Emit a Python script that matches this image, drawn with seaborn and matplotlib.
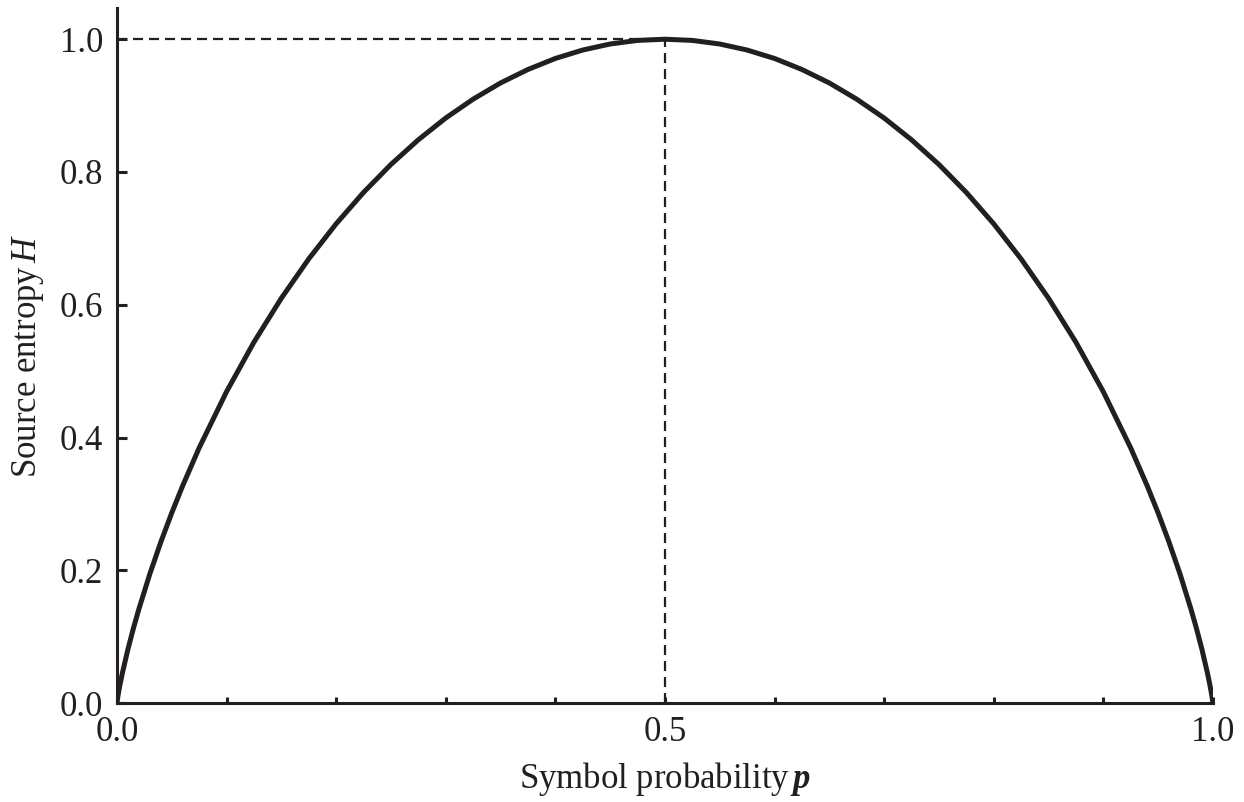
import matplotlib
matplotlib.use("Agg")
import matplotlib.pyplot as plt
import seaborn as sns
import pandas as pd

# Values
p_values = [0.0, 0.001, 0.0025, 0.005, 0.01, 0.015, 0.02, 0.03, 0.04, 0.05, 0.06, 0.075,
            0.1, 0.125, 0.15, 0.175, 0.2, 0.225, 0.25, 0.275, 0.3, 0.325, 0.35, 0.375,
            0.4, 0.425, 0.45, 0.475, 0.5,
            0.525, 0.55, 0.575, 0.6, 0.625, 0.65, 0.675, 0.7, 0.725, 0.75, 0.775, 0.8,
            0.825, 0.85, 0.875, 0.9, 0.925, 0.94, 0.95, 0.96, 0.97, 0.98, 0.985, 0.99,
            0.995, 0.9975, 0.999, 1.0]
h_values = [0.0, 0.0114, 0.0252, 0.0454, 0.0808, 0.1124, 0.1414, 0.1944, 0.2423, 0.2864, 0.3274, 0.3843,
            0.4690, 0.5436, 0.6098, 0.6690, 0.7219, 0.7692, 0.8113, 0.8485, 0.8813, 0.9097, 0.9341, 0.9544,
            0.9710, 0.9837, 0.9928, 0.9982, 1.0,
            0.9982, 0.9928, 0.9837, 0.9710, 0.9544, 0.9341, 0.9097, 0.8813, 0.8485, 0.8113, 0.7692, 0.7219,
            0.6690, 0.6098, 0.5436, 0.4690, 0.3843, 0.3274, 0.2864, 0.2423, 0.1944, 0.1414, 0.1124, 0.0808,
            0.0454, 0.0252, 0.0114, 0.0]
peak_p = [0.5]
peak_h = [1.0]

x_major = [0.0, 0.5, 1.0]
x_major_labels = ["0.0", "0.5", "1.0"]
x_minor = [0.1, 0.2, 0.3, 0.4, 0.6, 0.7, 0.8, 0.9]
y_major = [0.0, 0.2, 0.4, 0.6, 0.8, 1.0]
y_major_labels = ["0.0", "0.2", "0.4", "0.6", "0.8", "1.0"]

df = pd.DataFrame({"p": p_values, "H": h_values})

sns.set_theme(style="ticks")
plt.rcParams["font.family"] = ["Liberation Serif", "DejaVu Serif"]
plt.rcParams["mathtext.fontset"] = "custom"
plt.rcParams["mathtext.rm"] = "Liberation Serif"
plt.rcParams["mathtext.it"] = "Liberation Serif:italic"
plt.rcParams["mathtext.bf"] = "Liberation Serif:italic:bold"

ink = "#231f20"
fig = plt.figure(figsize=(12.44, 8.02), dpi=100)
ax = fig.add_axes([0.094, 0.1234, 0.881, 0.8666])

# dashed guide lines to the peak
dash = (0, (4.5, 2.7))
ax.plot([0.0, peak_p[0]], [peak_h[0], peak_h[0]], color=ink, lw=1.6, ls=dash, zorder=1)
ax.plot([peak_p[0], peak_p[0]], [0.0, peak_h[0]], color=ink, lw=1.6, ls=dash, zorder=1)

sns.lineplot(data=df, x="p", y="H", ax=ax, color=ink, lw=3.6, sort=False,
             solid_capstyle="round", zorder=3)

ax.set_xlim(0, 1.0)
ax.set_ylim(0, 1.047)
ax.set_xticks(x_major)
ax.set_xticklabels(x_major_labels)
ax.set_xticks(x_minor, minor=True)
ax.set_yticks(y_major)
ax.set_yticklabels(y_major_labels)

for side in ["top", "right"]:
    ax.spines[side].set_visible(False)
for side in ["left", "bottom"]:
    ax.spines[side].set_linewidth(2.2)
    ax.spines[side].set_color(ink)

ax.tick_params(axis="y", which="major", direction="in", length=7, width=2.2,
               color=ink, labelsize=25, labelcolor=ink, pad=10)
ax.tick_params(axis="x", which="major", direction="in", length=4, width=2.2,
               color=ink, labelsize=25, labelcolor=ink, pad=9)
ax.tick_params(axis="x", which="minor", direction="in", length=4, width=2.2, color=ink)

ax.set_xlabel(r"Symbol probability$\,\mathbf{p}$", fontsize=25, color=ink, labelpad=8)
ax.set_ylabel(r"Source entropy$\,\mathit{H}$", fontsize=25, color=ink, labelpad=10)
ax.grid(False)

fig.savefig("out.png", dpi=100)
